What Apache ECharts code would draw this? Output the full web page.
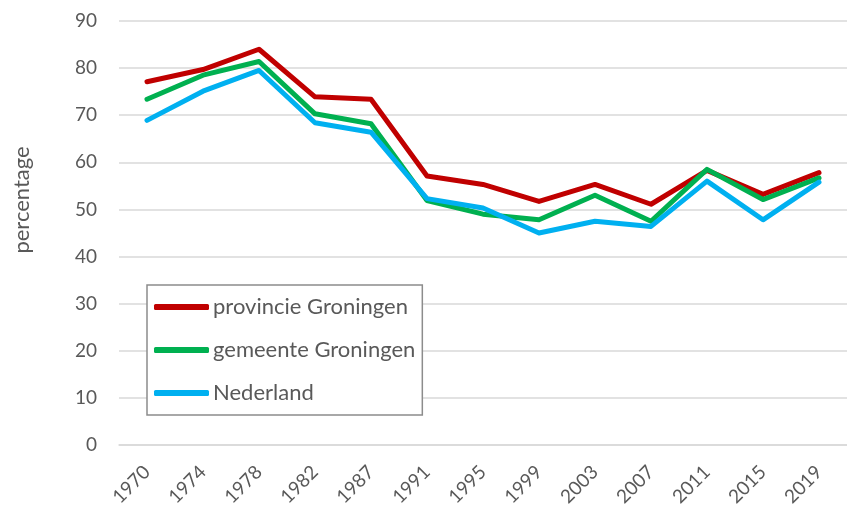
<!DOCTYPE html>
<html>
<head>
<meta charset="utf-8">
<script src="https://cdn.jsdelivr.net/npm/echarts@6/dist/echarts.min.js"></script>
<style>
  html, body { margin: 0; padding: 0; background: #fff; }
  #chart { width: 847px; height: 510px; }
</style>
</head>
<body>
<div id="chart"></div>
<script>
// jaren en percentages
const years = ['1970', '1974', '1978', '1982', '1987', '1991', '1995', '1999', '2003', '2007', '2011', '2015', '2019']
const provincie = [77.1, 79.7, 84.0, 73.9, 73.4, 57.1, 55.3, 51.7, 55.3, 51.1, 58.3, 53.2, 57.8]
const gemeente = [73.4, 78.5, 81.4, 70.3, 68.2, 51.9, 49.0, 47.8, 53.0, 47.5, 58.5, 52.1, 56.7]
const nederland = [68.9, 75.1, 79.5, 68.4, 66.4, 52.3, 50.3, 45.0, 47.5, 46.4, 56.0, 47.8, 55.8]

const font = 'Lato'
const grey = '#595959'

const chart = echarts.init(document.getElementById('chart'))

const line = (name, data, color) => ({
    name: name,
    type: 'line',
    data: data,
    symbol: 'none',
    lineStyle: { width: 5, color: color, cap: 'round', join: 'round' },
    itemStyle: { color: color }
})

chart.setOption({
    animation: false,
    textStyle: { fontFamily: font },
    grid: { left: 119, top: 21, width: 740, height: 424 },
    legend: {
        orient: 'vertical',
        left: 147,
        top: 285,
        padding: [11, 7, 11, 7],
        itemGap: 21,
        itemWidth: 55,
        itemHeight: 6,
        icon: 'roundRect',
        borderColor: '#8c8c8c',
        borderWidth: 1.5,
        backgroundColor: '#fff',
        textStyle: { fontSize: 22, color: grey, fontFamily: font, padding: [0, 0, 0, -1], lineHeight: 22 },
        data: ['provincie Groningen', 'gemeente Groningen', 'Nederland']
    },
    xAxis: {
        type: 'category',
        data: years,
        boundaryGap: true,
        axisLine: { lineStyle: { color: '#d9d9d9', width: 1.5 } },
        axisTick: { show: false },
        axisLabel: { rotate: 45, fontSize: 19, color: grey, margin: 24 }
    },
    yAxis: {
        type: 'value',
        min: 0,
        max: 90,
        interval: 10,
        name: 'percentage',
        nameLocation: 'middle',
        nameGap: 86,
        nameTextStyle: { fontSize: 22, color: grey, padding: [0, 0, 0, 66] },
        axisLine: { show: false },
        axisTick: { show: false },
        axisLabel: { fontSize: 19, color: grey, margin: 22 },
        splitLine: { lineStyle: { color: '#d9d9d9', width: 1.5 } }
    },
    series: [
        line('provincie Groningen', provincie, '#c00000'),
        line('gemeente Groningen', gemeente, '#00b050'),
        line('Nederland', nederland, '#00b0f0')
    ]
})
</script>
</body>
</html>
